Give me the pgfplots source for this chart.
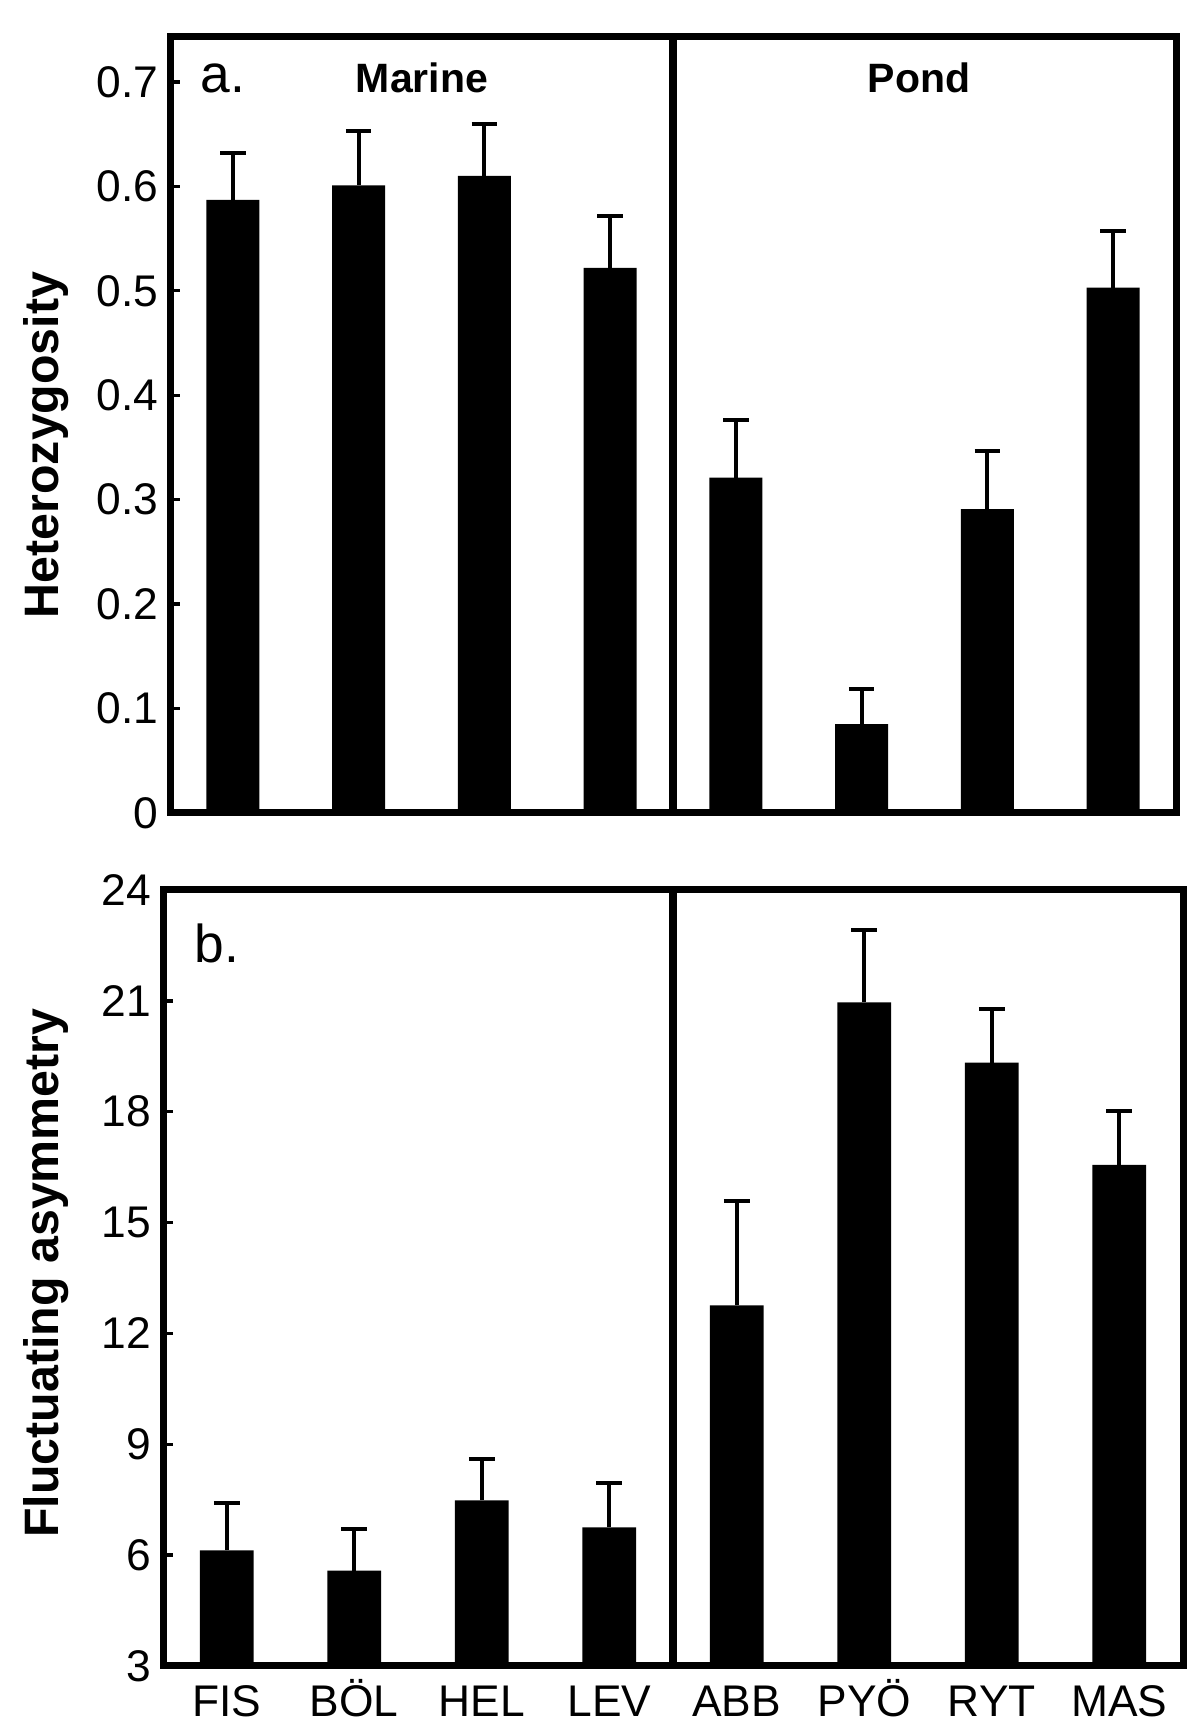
\documentclass[border=0pt]{standalone}
\usepackage{fontspec}
\setmainfont{Liberation Sans}
\usepackage{pgfplots}
\pgfplotsset{compat=1.18}
\usepackage{pgfplotstable}
\pgfplotstableread{
x y e
0 0.587 0.045
1 0.601 0.052
2 0.610 0.050
3 0.522 0.050
4 0.321 0.055
5 0.085 0.034
6 0.291 0.056
7 0.503 0.054
}\hetdata
\pgfplotstableread{
x y e
0 6.13 1.28
1 5.58 1.13
2 7.48 1.11
3 6.75 1.19
4 12.76 2.83
5 20.96 1.97
6 19.33 1.46
7 16.56 1.45
}\fadata
\pgfplotsset{
  panel/.style={
    scale only axis,
    anchor=south west,
    height=232.8pt,
    xmin=-0.5, xmax=7.5,
    axis line style={line width=2.1pt},
    tick align=inside,
    major tick length=3pt,
    ytick pos=left,
    xtick=\empty,
    tick style={line width=1pt, black},
    ticklabel style={font=\fontsize{13.3}{16}\selectfont},
    /pgf/number format/assume math mode=true,
    clip=true,
  },
  barsty/.style={
    ybar, bar width=0.42, fill=black, draw=none, bar shift=0pt,
    error bars/.cd, y dir=plus, y explicit,
    error bar style={draw=black, line width=1.2pt},
    error mark options={draw=black, line width=1.2pt, mark size=3.85pt, rotate=90},
  },
}
\begin{document}
\begin{tikzpicture}
\path[use as bounding box] (0,0) rectangle (360pt,520.8pt);
% top panel
\begin{axis}[panel, at={(51pt,276.9pt)}, width=301.8pt,
  ymin=0, ymax=0.743,
  ytick={0,0.1,0.2,0.3,0.4,0.5,0.6,0.7},
  yticklabel style={/pgf/number format/fixed, /pgf/number format/precision=1},
]
\addplot[barsty] table[x=x, y=y, y error=e] {\hetdata};
\draw[line width=2.3pt] ({axis cs:3.5,0}|-{rel axis cs:0,0}) -- ({axis cs:3.5,0}|-{rel axis cs:0,1});
\end{axis}
% bottom panel
\begin{axis}[panel, at={(48.9pt,21pt)}, width=306pt,
  ymin=3, ymax=24,
  ytick={3,6,9,12,15,18,21,24},
  xtick={0,1,2,3,4,5,6,7},
  xticklabels={FIS,BÖL,HEL,LEV,ABB,PYÖ,RYT,MAS},
  x tick style={draw=none},
  xticklabel style={text height=9.6pt, text depth=0pt, yshift=-2pt},
]
\addplot[barsty] table[x=x, y=y, y error=e] {\fadata};
\draw[line width=2.3pt] ({axis cs:3.5,3}|-{rel axis cs:0,0}) -- ({axis cs:3.5,3}|-{rel axis cs:0,1});
\end{axis}
% labels
\node[rotate=90, font=\fontsize{14.5}{17}\selectfont\bfseries] at (13.8pt,387.3pt) {Heterozygosity};
\node[rotate=90, font=\fontsize{14.5}{17}\selectfont\bfseries] at (13.8pt,138.9pt) {Fluctuating asymmetry};
\node[anchor=base west, inner sep=0pt, font=\fontsize{16}{19}\selectfont] at (60pt,492.9pt) {a.};
\node[anchor=base, inner sep=0pt, font=\fontsize{12.3}{15}\selectfont\bfseries] at (126.6pt,492.9pt) {Marine};
\node[anchor=base, inner sep=0pt, font=\fontsize{12.3}{15}\selectfont\bfseries] at (275.7pt,492.9pt) {Pond};
\node[anchor=base west, inner sep=0pt, font=\fontsize{16}{19}\selectfont] at (58.2pt,231.9pt) {b.};
\end{tikzpicture}
\end{document}
